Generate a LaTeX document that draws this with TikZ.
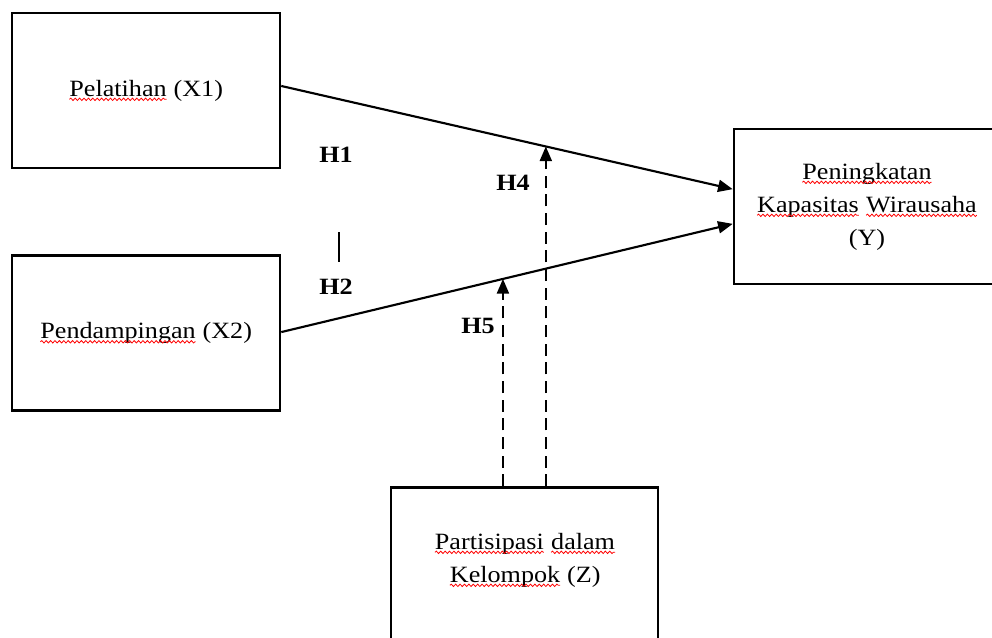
\documentclass[tikz,border=0pt]{standalone}
\usepackage{xcolor}
\usepackage{fontspec}
\setmainfont[FakeStretch=1.12]{Liberation Serif}
\usepackage{tikz}
\usetikzlibrary{positioning, arrows.meta, decorations.pathmorphing}

% red wavy spelling underline
\newcommand{\spell}[1]{\tikz[baseline=(w.base)]{\node[inner sep=0pt, outer sep=0pt, draw=none, minimum width=0pt, minimum height=0pt] (w) {#1};
    \draw[red, line width=0.6pt, decorate, decoration={snake, amplitude=0.9pt, segment length=3.3pt}] ([yshift=-2.4pt]w.base west) -- ([yshift=-2.4pt]w.base east);}}

\begin{document}
\begin{tikzpicture}[x=0.75pt, y=-0.75pt,
    box/.style={draw, line width=1.9pt, minimum width=201pt, minimum height=116pt, align=center, font=\fontsize{17.5}{24.75}\selectfont},
    boxtext/.style={align=center, font=\fontsize{17.5}{24.75}\selectfont},
    hyp/.style={font=\fontsize{17.5}{20}\selectfont\bfseries},
    effect/.style={line width=1.6pt, -{Triangle[length=11pt,width=9pt]}},
    moder/.style={effect, dash pattern=on 9pt off 5pt}]
    \useasboundingbox (0,0) rectangle (992,637);
    % variables
    \node[box] (x1) at (146,90.5) {\spell{Pelatihan} (X1)};
    \node[box] (x2) at (146,333) {\spell{Pendampingan} (X2)};
    \node[box, minimum width=199.5pt] (y) at (867,206.5) {\spell{Peningkatan}\\ \spell{Kapasitas} \spell{Wirausaha}\\ (Y)};
    \node[box, minimum width=200pt] (z) at (524.5,565) {};
    \node[boxtext] (zlabel) at (525,560) {\spell{Partisipasi} \spell{dalam}\\ \spell{Kelompok} (Z)};
    % direct effects
    \draw[effect] ([yshift=3.4pt]x1.east) -- coordinate[pos=0.586] (m1) ([yshift=13pt]y.west);
    \draw[effect] ([yshift=0.7pt]x2.east) -- coordinate[pos=0.491] (m2) ([yshift=-13pt]y.west);
    % moderation
    \draw[moder] (m1 |- z.north) -- (m1);
    \draw[moder] (m2 |- z.north) -- (m2);
    \draw[line width=0.8pt] (339,232) -- (339,262);
    % hypotheses
    \node[hyp] (h1) at (336,155) {H1};
    \node[hyp] (h2) at (336,287) {H2};
    \node[hyp] (h4) at (513,183) {H4};
    \node[hyp] (h5) at (478,326) {H5};
\end{tikzpicture}
\end{document}
